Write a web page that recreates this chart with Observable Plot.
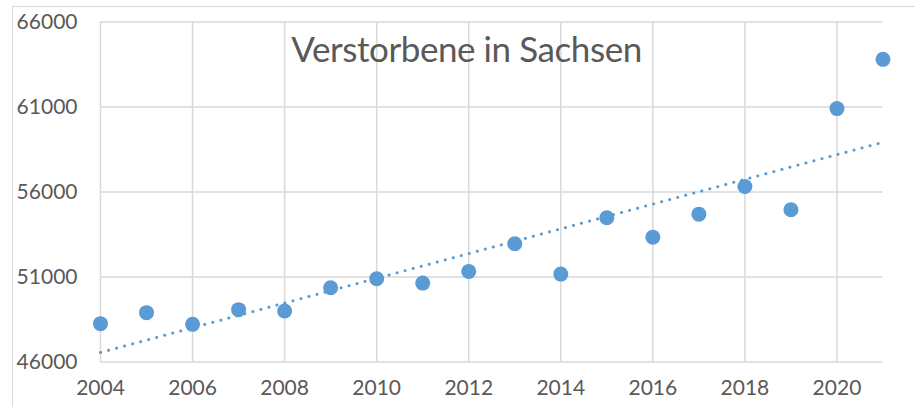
<!DOCTYPE html>
<html>
<head>
<meta charset="utf-8">
<script src="https://cdn.jsdelivr.net/npm/d3@7"></script>
<script src="https://cdn.jsdelivr.net/npm/@observablehq/plot@0.6"></script>
<style>
  html, body { margin: 0; padding: 0; background: #fff; }
  #wrap { position: relative; width: 915px; height: 407px; overflow: hidden; }
  #border { position: absolute; left: 12px; top: 5.5px; width: 1000px; height: 500px;
            border-left: 1.5px solid #d9d9d9; border-top: 1.5px solid #d9d9d9; }
  #wrap svg { position: absolute; left: 0; top: 0; }
</style>
</head>
<body>
<div id="wrap"><div id="border"></div></div>
<script>
const title = "Verstorbene in Sachsen";
const years = [2004, 2005, 2006, 2007, 2008, 2009, 2010, 2011, 2012, 2013, 2014, 2015, 2016, 2017, 2018, 2019, 2020, 2021];
const deaths = [48256, 48902, 48215, 49079, 48996, 50371, 50900, 50642, 51329, 52957, 51170, 54484, 53344, 54696, 56323, 54954, 60906, 63803];
const xTicks = [2004, 2006, 2008, 2010, 2012, 2014, 2016, 2018, 2020];
const yTicks = [46000, 51000, 56000, 61000, 66000];

const data = years.map((year, i) => ({year, value: deaths[i]}));
const blue = "#5B9BD5";
const grid = "#d9d9d9";
const textColor = "#595959";
const font = "Lato, 'Open Sans', sans-serif";

const chart = Plot.plot({
  width: 915,
  height: 407,
  marginLeft: 100,
  marginRight: 32.5,
  marginTop: 21.5,
  marginBottom: 45.5,
  style: { fontFamily: font, color: textColor, background: "transparent", overflow: "visible" },
  x: { domain: [2004, 2021] },
  y: { domain: [46000, 66000] },
  marks: [
    Plot.gridX(xTicks, { stroke: grid, strokeOpacity: 1, strokeWidth: 1.5 }),
    Plot.gridY(yTicks, { stroke: grid, strokeOpacity: 1, strokeWidth: 1.5 }),
    Plot.axisX(xTicks, { tickSize: 0, tickPadding: 18, tickFormat: d => String(d), fontSize: 21, fill: textColor, label: null }),
    Plot.axisY(yTicks, { tickSize: 0, tickPadding: 23, tickFormat: d => String(d), fontSize: 21, fill: textColor, label: null }),
    Plot.text([title], { frameAnchor: "top", dx: -25, dy: 29, text: d => d, fontSize: 35, fill: textColor, lineAnchor: "middle", className: "chart-title" }),
    Plot.linearRegressionY(data, { x: "year", y: "value", ci: 0, stroke: blue, strokeWidth: 3, strokeLinecap: "round", strokeDasharray: "0.1 8.2" }),
    Plot.dot(data, { x: "year", y: "value", r: 7.5, fill: blue, stroke: "none" })
  ]
});
document.getElementById("wrap").appendChild(chart);
chart.querySelectorAll(".chart-title text").forEach(t => {
  t.setAttribute("textLength", 351);
  t.setAttribute("lengthAdjust", "spacing");
});
</script>
</body>
</html>
